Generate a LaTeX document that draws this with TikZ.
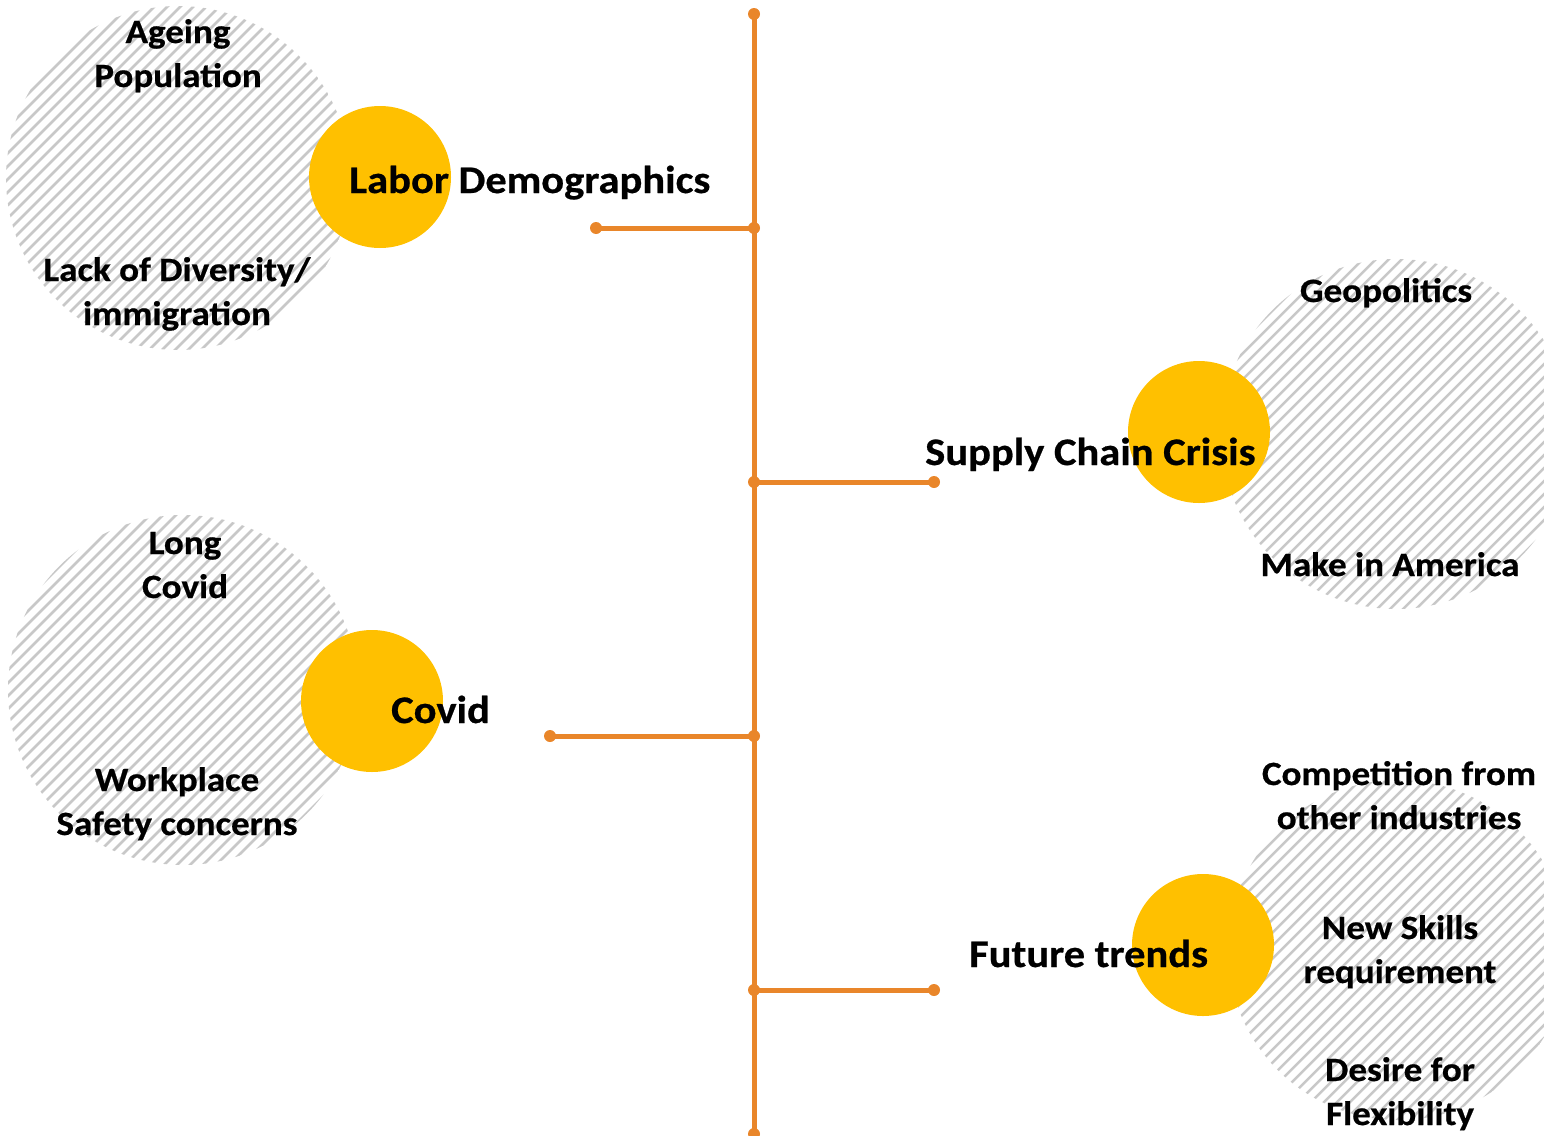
\documentclass[tikz,border=0pt]{standalone}
\usepackage{fontspec}
\setmainfont{Carlito}
\newfontfamily\labelfont{Carlito}[FakeStretch=1.09, BoldFeatures={FakeBold=0.6}]
\definecolor{spine}{RGB}{233,134,42}
\definecolor{gold}{RGB}{255,192,0}
\definecolor{hatchgray}{RGB}{200,200,200}
\tikzset{
  hatchline/.style={draw=hatchgray, line width=2.5pt},
  hub/.style={circle, fill=gold, minimum size=142pt, inner sep=0pt},
  topic/.style={font=\labelfont\bfseries\fontsize{39}{46}\selectfont, inner sep=0pt, anchor=base west},
  factor/.style={font=\labelfont\bfseries\fontsize{34}{44}\selectfont, inner sep=0pt, align=center, anchor=base},
  branch/.style={draw=spine, line width=5pt},
  knob/.style={fill=spine},
}
% striped disc: centre x, centre y, radius
\newcommand\stripedisc[3]{%
  \begin{scope}
    \clip (#1,#2) circle[radius=#3 pt];
    \foreach \k in {-40,...,40}
      \draw[hatchline] (#1+\k*13-200,#2+200) -- (#1+\k*13+200,#2-200);
  \end{scope}}
\begin{document}
\begin{tikzpicture}[x=1pt,y=-1pt]
\useasboundingbox (0,0) rectangle (1544,1135);

% striped backgrounds
\stripedisc{178}{178}{172}
\stripedisc{183}{690}{175}
\stripedisc{1396}{434}{175}
\stripedisc{1398}{950}{170}

% gold hubs
\node[hub] (labhub) at (380,177) {};
\node[hub] (suphub) at (1199,432) {};
\node[hub] (covhub) at (372,701) {};
\node[hub] (futhub) at (1203,945) {};

% spine and branches
\coordinate (top) at (754,14);
\coordinate (bottom) at (754,1134);
\coordinate (j1) at (754,228);
\coordinate (j2) at (754,482);
\coordinate (j3) at (754,736);
\coordinate (j4) at (754,990);
\coordinate (e1) at (596,228);
\coordinate (e2) at (934,482);
\coordinate (e3) at (550,736);
\coordinate (e4) at (934,990);
\draw[branch] (top) -- (bottom);
\draw[branch] (j1) -- (e1);
\draw[branch] (j2) -- (e2);
\draw[branch] (j3) -- (e3);
\draw[branch] (j4) -- (e4);
\foreach \p in {top,bottom,j1,j2,j3,j4,e1,e2,e3,e4}
  \fill[knob] (\p) circle[radius=6pt];

% topic labels
\node[topic] (labt) at (349,193) {Labor Demographics};
\node[topic] (supt) at (925,465) {Supply Chain Crisis};
\node[topic] (covt) at (391,723) {Covid};
\node[topic] (futt) at (969,967) {Future trends};

% contributing factors (anchored on the baseline of the last line)
\node[factor] (f1) at (178,87) {Ageing\\Population};
\node[factor] (f2) at (177,325) {Lack of Diversity/\\immigration};
\node[factor] (f3) at (185,598) {Long\\Covid};
\node[factor] (f4) at (177,835) {Workplace\\Safety concerns};
\node[factor] (f5) at (1386,302) {Geopolitics};
\node[factor] (f6) at (1390,576) {Make in America};
\node[factor] (f7) at (1399,829) {Competition from\\other industries};
\node[factor] (f8) at (1400,983) {New Skills\\requirement};
\node[factor] (f9) at (1400,1125) {Desire for\\Flexibility};
\end{tikzpicture}
\end{document}
